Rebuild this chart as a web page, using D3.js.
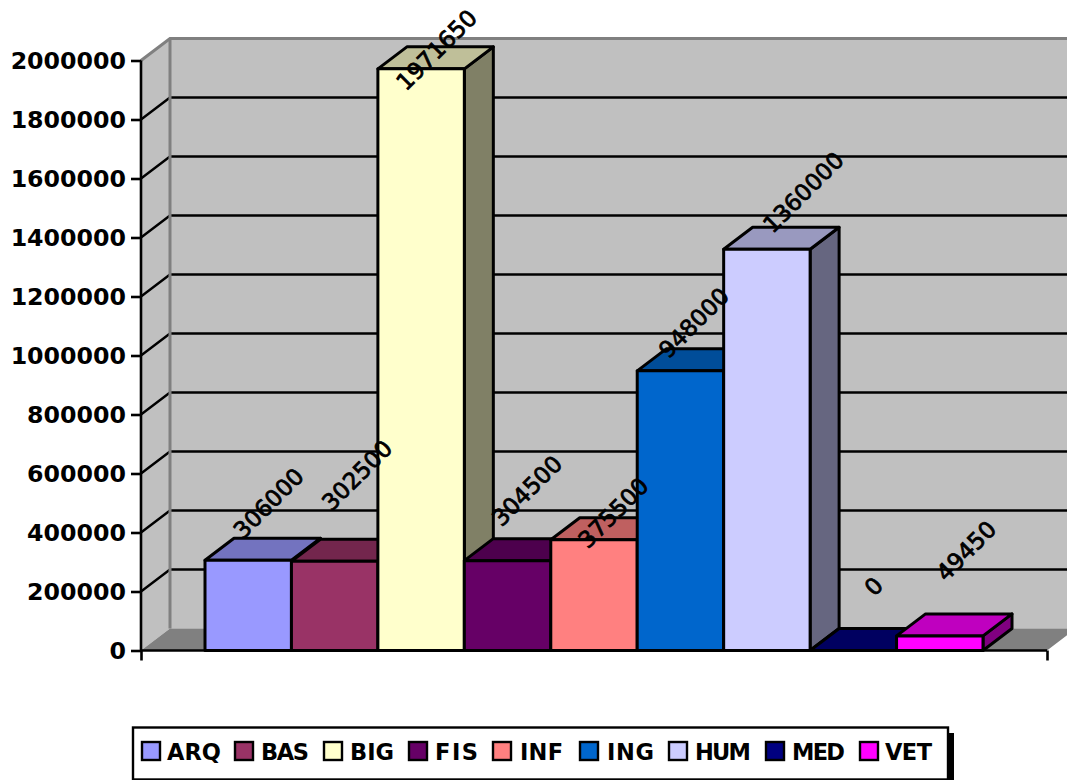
<!DOCTYPE html>
<html><head><meta charset="utf-8">
<script src="https://cdn.jsdelivr.net/npm/d3@7/dist/d3.min.js"></script>
<style>html,body{margin:0;padding:0;background:#fff}svg{display:block}text{font-family:"DejaVu Sans",sans-serif;font-weight:bold;fill:#000}</style>
</head><body><svg id="c" width="1067" height="780"></svg>
<script>
const categories=["ARQ","BAS","BIG","FIS","INF","ING","HUM","MED","VET"];
const values=[306000,302500,1971650,304500,375500,948000,1360000,0,49450];
const frontColors=["#9999FF","#993366","#FFFFCC","#660066","#FF8080","#0066CC","#CCCCFF","#000080","#FF00FF"];
const yTicks=[0,200000,400000,600000,800000,1000000,1200000,1400000,1600000,1800000,2000000];

// layout
const depthX=29,depthY=-22;
const axisLeft=141,axisRight=1047;
const labelNudge=[[6,-35],[8,-64],[1,3],[5,-48],[5,-5],[-1,-26],[22,-35],[6,-42],[12,-63]];
const legendX=[[141,167],[234,261],[323,350],[408,435],[492,520],[579,607],[668,695],[765,792],[859,885]];
const legendW=[54,48,44,43,43,47,56,53,47];

const svg=d3.select("#c");
const y=d3.scaleLinear().domain([0,2000000]).range([650.5,60.5]);
const x=d3.scaleBand().domain(categories).range([205,983]);
const poly=p=>p.map(a=>a.join(",")).join(" ");
const shade=(c,k)=>{const r=d3.rgb(c);return d3.rgb(r.r*k,r.g*k,r.b*k).formatHex();};

const y0=y(0),yTop=y(2000000);
// walls
svg.append("polygon").attr("points",poly([[axisLeft+depthX,yTop+depthY],[1080,yTop+depthY],[1080,y0+depthY],[axisLeft+depthX,y0+depthY]])).attr("fill","#C0C0C0");
svg.append("polygon").attr("points",poly([[axisLeft,yTop],[axisLeft+depthX,yTop+depthY],[axisLeft+depthX,y0+depthY],[axisLeft,y0]])).attr("fill","#C0C0C0");
// grid
yTicks.filter(t=>t>0&&t<2000000).forEach(t=>{
  svg.append("polyline").attr("points",poly([[axisLeft,y(t)],[axisLeft+depthX,y(t)+depthY],[1080,y(t)+depthY]])).attr("fill","none").attr("stroke","#000").attr("stroke-width",2.4);
});
// wall edges
svg.append("polyline").attr("points",poly([[axisLeft,yTop],[axisLeft+depthX,yTop+depthY],[1080,yTop+depthY]])).attr("fill","none").attr("stroke","#808080").attr("stroke-width",3);
svg.append("line").attr("x1",axisLeft+depthX).attr("x2",axisLeft+depthX).attr("y1",yTop+depthY).attr("y2",y0+depthY).attr("stroke","#808080").attr("stroke-width",3);
// floor
svg.append("polygon").attr("points",poly([[axisLeft,y0],[axisLeft+depthX,y0+depthY],[1080,y0+depthY],[axisRight+depthX,y0+depthY],[axisRight,y0]])).attr("fill","#808080");

// bars
categories.forEach((c,i)=>{
  const g=svg.append("g").attr("stroke","#000").attr("stroke-width",3).attr("stroke-linejoin","round");
  const l=x(c),r=l+x.bandwidth(),t=y(values[i]),f=frontColors[i];
  g.append("polygon").attr("points",poly([[r,t],[r+depthX,t+depthY],[r+depthX,y0+depthY],[r,y0]])).attr("fill",shade(f,0.5));
  g.append("polygon").attr("points",poly([[l,t],[l+depthX,t+depthY],[r+depthX,t+depthY],[r,t]])).attr("fill",shade(f,0.75));
  g.append("rect").attr("x",l).attr("y",t).attr("width",x.bandwidth()).attr("height",y0-t).attr("fill",f);
});

// axes
const ya=d3.axisLeft(y).tickValues(yTicks).tickSize(10).tickPadding(5).tickFormat(d3.format("d"));
const yg=svg.append("g").attr("transform",`translate(${axisLeft},0)`).call(ya);
yg.select(".domain").attr("stroke","#000").attr("stroke-width",2.6).attr("d",`M0,${yTop}V${y0}`);
yg.selectAll(".tick line").attr("stroke","#000").attr("stroke-width",2.6);
yg.selectAll(".tick text").attr("font-family",null).style("font-size","23.7px").attr("fill","#000");
const xs=d3.scaleLinear().domain([0,1]).range([axisLeft,axisRight]);
const xa=d3.axisBottom(xs).tickValues([0,1]).tickSize(10).tickFormat("");
const xg=svg.append("g").attr("transform",`translate(0,${y0})`).call(xa);
xg.select(".domain").attr("stroke","#000").attr("stroke-width",2.6).attr("d",`M${axisLeft},0H${axisRight}`);
xg.selectAll(".tick line").attr("stroke","#000").attr("stroke-width",2.6);

// data labels
categories.forEach((c,i)=>{
  const cx=x(c)+x.bandwidth()/2+depthX/2+labelNudge[i][0];
  const cy=y(values[i])+depthY+labelNudge[i][1];
  svg.append("text").attr("transform",`translate(${cx},${cy}) rotate(-45)`).attr("text-anchor","middle").attr("dominant-baseline","central").style("font-size","23px").style("font-weight","normal").attr("stroke","#000").attr("stroke-width",0.8).text(values[i]);
});

// legend
svg.append("rect").attr("x",139).attr("y",733).attr("width",815).attr("height",47).attr("fill","#000");
svg.append("rect").attr("x",133).attr("y",727.5).attr("width",815).attr("height",52).attr("fill","#fff").attr("stroke","#000").attr("stroke-width",2.4);
categories.forEach((c,i)=>{
  svg.append("rect").attr("x",legendX[i][0]+1).attr("y",742).attr("width",18).attr("height",18).attr("fill",frontColors[i]).attr("stroke","#000").attr("stroke-width",2.4);
  svg.append("text").attr("x",legendX[i][1]).attr("y",760).style("font-size","22.5px").attr("textLength",legendW[i]).attr("lengthAdjust","spacing").text(c);
});
</script></body></html>
